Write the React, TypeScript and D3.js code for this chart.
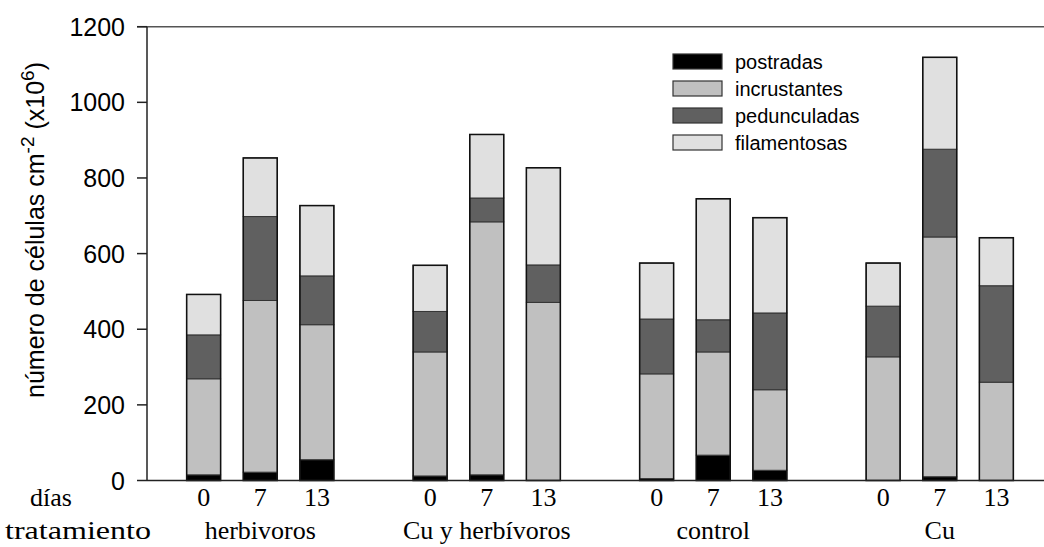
import { useEffect, useRef } from 'react';
import * as d3 from 'd3';

// tratamientos y días
const treatments = ['herbivoros', 'Cu y herbívoros', 'control', 'Cu'];
const days = ['0', '7', '13'];
const seriesNames = ['postradas', 'incrustantes', 'pedunculadas', 'filamentosas'];
const seriesColors = ['#000000', '#c0c0c0', '#606060', '#e0e0e0'];

// values per bar (treatment x day), in order of treatments then days
const postradas = [15, 22, 55, 12, 15, 0, 5, 67, 27, 0, 10, 0];
const incrustantes = [254, 454, 357, 328, 669, 471, 277, 273, 213, 327, 634, 260];
const pedunculadas = [116, 222, 129, 107, 63, 99, 145, 85, 203, 134, 232, 255];
const filamentosas = [107, 155, 186, 122, 168, 257, 148, 320, 252, 114, 243, 127];

const yTicks = [0, 200, 400, 600, 800, 1000, 1200];

export default function App() {
  const svgRef = useRef<SVGSVGElement>(null);

  useEffect(() => {
    if (!svgRef.current) return;
    const svg = d3.select(svgRef.current);
    svg.selectAll('*').remove();

    const sans = 'Liberation Sans, Arial, sans-serif';
    const serif = 'Liberation Serif, Times New Roman, serif';

    // 15 slots, empty slots between groups
    const slots = d3.range(15).map(String);
    const x = d3.scaleBand<string>()
      .domain(slots)
      .range([147, 1053])
      .paddingInner(0.4)
      .paddingOuter(0.7);
    const y = d3.scaleLinear().domain([0, 1200]).range([480.5, 26.7]);

    const bars = treatments.flatMap((t, ti) =>
      days.map((d, di) => {
        const i = ti * 3 + di;
        return {
          slot: String(ti * 4 + di),
          day: d,
          values: [postradas[i], incrustantes[i], pedunculadas[i], filamentosas[i]],
        };
      })
    );

    const stack = d3.stack<number[]>()
      .keys(seriesNames.map((_, i) => String(i)))
      .value((d, k) => d[+k]);
    const stacked = stack(bars.map(b => b.values));

    // bars
    stacked.forEach((layer, li) => {
      svg.append('g')
        .selectAll('rect')
        .data(layer)
        .enter().append('rect')
        .attr('x', (_, i) => x(bars[i].slot)!)
        .attr('width', x.bandwidth())
        .attr('y', d => y(d[1]))
        .attr('height', d => y(d[0]) - y(d[1]))
        .attr('fill', seriesColors[li])
        .attr('stroke', '#333')
        .attr('stroke-width', 1);
    });
    // outline
    svg.append('g')
      .selectAll('rect')
      .data(bars)
      .enter().append('rect')
      .attr('x', d => x(d.slot)!)
      .attr('width', x.bandwidth())
      .attr('y', d => y(d3.sum(d.values)))
      .attr('height', d => y(0) - y(d3.sum(d.values)))
      .attr('fill', 'none')
      .attr('stroke', '#111')
      .attr('stroke-width', 1.5);

    // axes
    svg.append('line')
      .attr('x1', 137).attr('x2', 1053)
      .attr('y1', y(1200)).attr('y2', y(1200))
      .attr('stroke', '#555').attr('stroke-width', 1.5);
    svg.append('line')
      .attr('x1', 147).attr('x2', 1053)
      .attr('y1', y(0)).attr('y2', y(0))
      .attr('stroke', '#222').attr('stroke-width', 1.5);
    svg.append('line')
      .attr('x1', 147).attr('x2', 147)
      .attr('y1', y(0)).attr('y2', y(1200))
      .attr('stroke', '#222').attr('stroke-width', 1.5);

    const ticks = svg.append('g');
    ticks.selectAll('line')
      .data(yTicks)
      .enter().append('line')
      .attr('x1', 137).attr('x2', 147)
      .attr('y1', d => y(d)).attr('y2', d => y(d))
      .attr('stroke', '#222').attr('stroke-width', 1.5);
    ticks.selectAll('text')
      .data(yTicks)
      .enter().append('text')
      .attr('x', 125)
      .attr('y', d => y(d))
      .attr('dy', '0.36em')
      .attr('text-anchor', 'end')
      .attr('font-family', sans)
      .attr('font-size', 25)
      .attr('fill', '#000')
      .text(d => d);

    // y label
    const yl = svg.append('text')
      .attr('transform', 'translate(44,230) rotate(-90)')
      .attr('text-anchor', 'middle')
      .attr('font-family', sans)
      .attr('font-size', 25)
      .attr('fill', '#000');
    yl.append('tspan').text('número de células cm');
    yl.append('tspan').attr('dy', -10).attr('font-size', 19).text('-2');
    yl.append('tspan').attr('dy', 10).text(' (x10');
    yl.append('tspan').attr('dy', -10).attr('font-size', 19).text('6');
    yl.append('tspan').attr('dy', 10).text(')');

    // day labels
    svg.append('g')
      .selectAll('text')
      .data(bars)
      .enter().append('text')
      .attr('x', d => x(d.slot)! + x.bandwidth() / 2)
      .attr('y', 506)
      .attr('text-anchor', 'middle')
      .attr('font-family', serif)
      .attr('font-size', 26)
      .attr('fill', '#000')
      .text(d => d.day);

    svg.append('text')
      .attr('x', 30).attr('y', 506)
      .attr('font-family', serif).attr('font-size', 26)
      .text('días');
    svg.append('text')
      .attr('x', 5).attr('y', 539)
      .attr('font-family', serif).attr('font-size', 26)
      .attr('textLength', 146).attr('lengthAdjust', 'spacingAndGlyphs')
      .text('tratamiento');

    svg.append('g')
      .selectAll('text')
      .data(treatments)
      .enter().append('text')
      .attr('x', (_, i) => x(String(i * 4 + 1))! + x.bandwidth() / 2)
      .attr('y', 539)
      .attr('text-anchor', 'middle')
      .attr('font-family', serif)
      .attr('font-size', 26)
      .attr('fill', '#000')
      .text(d => d);

    // legend
    const legend = svg.append('g')
      .selectAll('g')
      .data(seriesNames)
      .enter().append('g')
      .attr('transform', (_, i) => `translate(673,${54 + i * 27})`);
    legend.append('rect')
      .attr('width', 49).attr('height', 15)
      .attr('fill', (_, i) => seriesColors[i])
      .attr('stroke', '#333').attr('stroke-width', 1.2);
    legend.append('text')
      .attr('x', 62).attr('y', 8)
      .attr('dy', '0.36em')
      .attr('font-family', sans)
      .attr('font-size', 20)
      .attr('fill', '#000')
      .text(d => d);
  }, []);

  return (
    <div style={{ position: 'absolute', left: 0, top: 0 }}>
      <svg ref={svgRef} width={1044} height={547} style={{ display: 'block', background: '#fff' }} />
    </div>
  );
}
